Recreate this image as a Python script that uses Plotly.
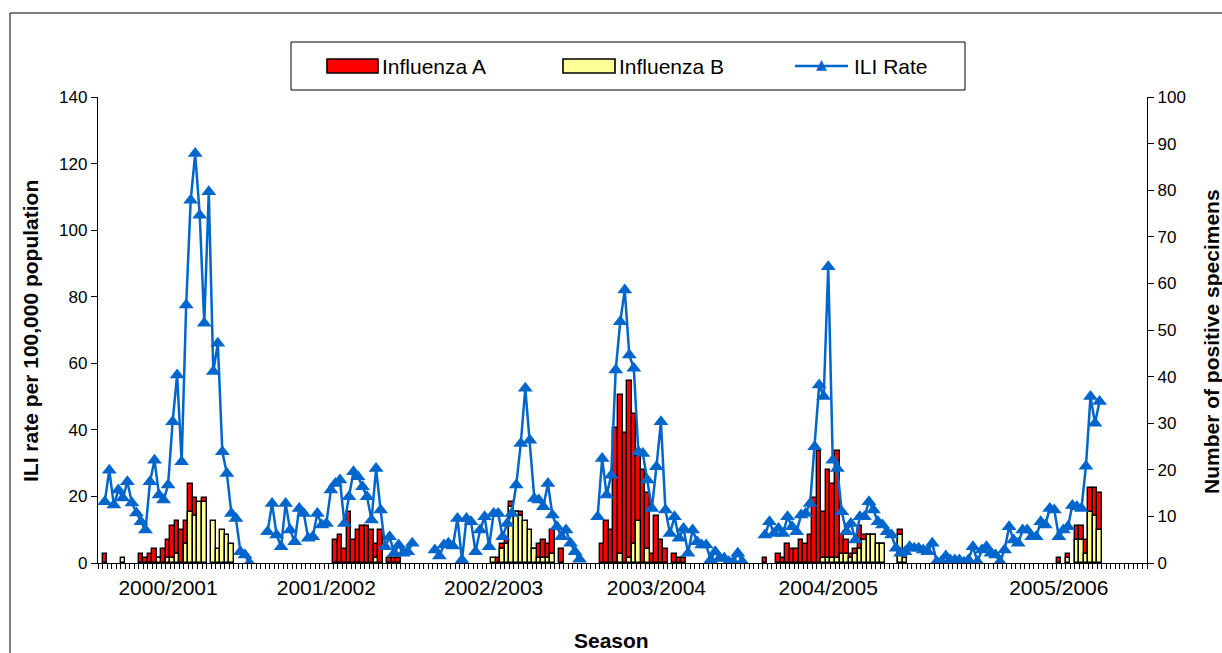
import plotly.graph_objects as go

# ---------------- data ----------------
N_WEEKS = 232                                  # weekly categories on the x axis
season_labels = ["2000/2001", "2001/2002", "2002/2003", "2003/2004", "2004/2005", "2005/2006"]
season_first_week = [1, 37, 74, 110, 147, 200]  # category index of first reported week
season_label_week = [15, 50, 87, 123, 161, 212]  # category carrying the season label

ili_s1 = [18.4, 27.9, 17.4, 21.9, 19.5, 24.4, 18.0, 15.0, 12.4, 9.9, 24.4, 30.9, 20.4, 18.9, 23.4, 42.4, 56.5,
          30.4, 77.5, 109.0, 123.0, 104.5, 72.0, 111.5, 57.5, 66.0, 33.4, 26.9, 14.9, 13.4, 3.4, 2.4, 0.0]
ili_s2 = [9.4, 17.9, 8.4, 4.9, 17.9, 9.9, 6.4, 16.4, 14.9, 7.4, 7.9, 14.9, 11.4, 11.9, 21.9, 23.9, 24.9,
          11.9, 19.9, 27.4, 25.9, 22.9, 19.9, 12.9, 28.4, 15.9, 4.9, 7.9, 2.9, 5.4, 2.9, 3.4, 5.9]
ili_s3 = [3.9, 2.1, 5.4, 5.9, 5.1, 13.4, 0.9, 13.4, 12.4, 3.4, 9.9, 13.9, 4.9, 14.9, 14.9, 7.9, 11.9,
          14.9, 23.4, 35.9, 52.5, 36.9, 19.4, 18.9, 16.9, 23.9, 14.4, 10.9, 7.9, 9.9, 5.9, 3.4, 1.1]
ili_s4 = [13.9, 31.4, 20.4, 26.4, 58.0, 72.5, 82.0, 62.5, 58.5, 33.4, 32.9, 24.9, 16.4, 28.9, 42.4, 15.9, 8.9,
          13.9, 7.4, 10.4, 2.9, 9.9, 6.4, 5.4, 5.4, 0.9, 3.4, 1.4, 1.4, 0.4, 0.4, 2.9, 0.4]
ili_s5 = [8.4, 12.4, 8.9, 10.4, 8.9, 13.9, 10.9, 9.4, 14.4, 14.9, 17.9, 34.9, 53.5, 50.0, 89.0, 30.9, 28.4,
          15.4, 9.4, 11.9, 6.9, 13.9, 13.9, 18.4, 15.9, 12.4, 11.4, 9.4, 8.4, 4.4, 2.9, 3.4, 4.9, 4.4, 4.4,
          3.9, 3.4, 5.9, 0.4, 0.4, 2.1, 0.9, 0.9, 0.9, 0.2, 0.9, 4.9, 0.4, 3.9, 4.9, 2.9, 2.4, 0.4]
ili_s6 = [3.9, 10.9, 6.9, 5.9, 9.9, 9.9, 7.9, 7.9, 12.4, 11.4, 16.4, 15.9, 7.9, 9.9, 10.9, 17.3, 16.9,
          16.4, 29.1, 50.0, 42.0, 48.5]

flu_a_s1 = [2, 0, 0, 0, 0, 0, 0, 0, 2, 1, 2, 3, 1, 3, 5, 8, 9, 7, 9, 17, 14, 12, 14, 0, 0, 0, 0, 0, 0, 0, 0, 0, 0]
flu_b_s1 = [0, 0, 0, 0, 1, 0, 0, 0, 0, 0, 0, 0, 1, 0, 1, 1, 2, 0, 4, 11, 10, 13, 13, 0, 9, 3, 7, 6, 4, 0, 0, 0, 0]
flu_a_s2 = [0, 0, 0, 0, 0, 0, 0, 0, 0, 0, 0, 0, 0, 0, 0, 5, 6, 3, 11, 5, 7, 8, 8, 7, 4, 7, 0, 1, 1, 1, 0, 0, 0]
flu_b_s2 = [0, 0, 0, 0, 0, 0, 0, 0, 0, 0, 0, 0, 0, 0, 0, 0, 0, 0, 0, 0, 0, 0, 0, 0, 1, 0, 0, 0, 0, 0, 0, 0, 0]
flu_a_s3 = [0, 0, 0, 0, 0, 0, 0, 0, 0, 0, 0, 0, 0, 0, 1, 4, 5, 13, 11, 11, 0, 0, 3, 4, 5, 4, 7, 0, 3, 0, 0, 0, 0]
flu_b_s3 = [0, 0, 0, 0, 0, 0, 0, 0, 0, 0, 0, 0, 0, 1, 0, 3, 4, 12, 11, 10, 9, 7, 3, 1, 1, 1, 2, 0, 0, 0, 0, 0, 0]
flu_a_s4 = [0, 4, 9, 7, 29, 36, 28, 39, 32, 23, 20, 15, 2, 10, 5, 3, 0, 2, 1, 1, 0, 0, 0, 0, 0, 0, 0, 0, 0, 0, 0, 0, 0]
flu_b_s4 = [0, 0, 0, 0, 0, 2, 0, 1, 4, 9, 0, 3, 0, 0, 0, 0, 0, 0, 0, 0, 0, 0, 0, 0, 0, 0, 0, 0, 0, 0, 0, 0, 0]
flu_a_s5 = [1, 0, 0, 2, 1, 4, 3, 3, 5, 4, 6, 14, 24, 11, 20, 17, 24, 6, 5, 2, 3, 8, 6, 6, 6, 4, 4, 0, 0, 0,
            7, 0, 0, 0, 0, 0, 0, 0, 0, 0, 0, 0, 0, 0, 0, 0, 0, 0, 0, 0, 0, 0, 0]
flu_b_s5 = [0, 0, 0, 0, 0, 0, 0, 0, 0, 0, 0, 0, 0, 1, 1, 1, 1, 2, 2, 1, 2, 3, 5, 6, 6, 4, 4, 0, 0, 0,
            6, 1, 0, 0, 0, 0, 0, 0, 0, 0, 0, 0, 0, 0, 0, 0, 0, 0, 0, 0, 0, 0, 0]
flu_a_s6 = [0, 0, 0, 0, 0, 0, 0, 0, 0, 0, 0, 0, 1, 0, 2, 0, 8, 8, 5, 16, 16, 15]
flu_b_s6 = [0, 0, 0, 0, 0, 0, 0, 0, 0, 0, 0, 0, 0, 0, 1, 0, 5, 5, 2, 11, 10, 7]

ili_seasons = [ili_s1, ili_s2, ili_s3, ili_s4, ili_s5, ili_s6]
flu_a_seasons = [flu_a_s1, flu_a_s2, flu_a_s3, flu_a_s4, flu_a_s5, flu_a_s6]
flu_b_seasons = [flu_b_s1, flu_b_s2, flu_b_s3, flu_b_s4, flu_b_s5, flu_b_s6]

# assemble full weekly series (None = week not reported / no positive specimens)
weeks = list(range(N_WEEKS))
ili = [None] * N_WEEKS
flu_a = [None] * N_WEEKS
flu_b = [None] * N_WEEKS
for start, s_ili, s_a, s_b in zip(season_first_week, ili_seasons, flu_a_seasons, flu_b_seasons):
    for k, v in enumerate(s_ili):
        ili[start + k] = v
    for k, v in enumerate(s_a):
        flu_a[start + k] = v if v else None
    for k, v in enumerate(s_b):
        flu_b[start + k] = v if v else None

# ---------------- styling / layout ----------------
FONT = "Liberation Sans, Arial, sans-serif"
RED, YELLOW, BLUE = "#FF0000", "#FFFF99", "#0066CC"
W, H = 1222, 653
L, R, T, B = 98, 75, 97, 90
PW, PH = W - L - R, H - T - B
BIG = 21


def fx(px):
    return (px - L) / PW


def fy(py):
    return 1 - (py - T) / PH


fig = go.Figure()
fig.add_trace(go.Bar(x=weeks, y=flu_a, name="Influenza A", width=1.0,
                     marker=dict(color=RED, line=dict(color="black", width=1.4)),
                     yaxis="y", showlegend=False))
fig.add_trace(go.Bar(x=weeks, y=flu_b, name="Influenza B", width=1.0,
                     marker=dict(color=YELLOW, line=dict(color="black", width=1.4)),
                     yaxis="y", showlegend=False))
fig.add_trace(go.Scatter(x=weeks, y=ili, name="ILI Rate", mode="lines+markers",
                         line=dict(color=BLUE, width=2.5),
                         marker=dict(symbol="triangle-up", size=13, color=BLUE),
                         connectgaps=False, yaxis="y2", showlegend=False))

shapes = [
    # chart area border
    dict(type="rect", xref="paper", yref="paper", x0=fx(10), x1=fx(1240), y0=fy(670), y1=fy(13),
         line=dict(color="black", width=1), fillcolor="rgba(0,0,0,0)", layer="below"),
    # legend box
    dict(type="rect", xref="paper", yref="paper", x0=fx(291), x1=fx(965), y0=fy(90), y1=fy(42),
         line=dict(color="black", width=1), fillcolor="white"),
    dict(type="rect", xref="paper", yref="paper", x0=fx(327), x1=fx(378), y0=fy(73), y1=fy(59),
         line=dict(color="black", width=1.6), fillcolor=RED),
    dict(type="rect", xref="paper", yref="paper", x0=fx(563), x1=fx(615), y0=fy(73), y1=fy(59),
         line=dict(color="black", width=1.6), fillcolor=YELLOW),
    dict(type="line", xref="paper", yref="paper", x0=fx(795), x1=fx(848), y0=fy(66), y1=fy(66),
         line=dict(color=BLUE, width=2.5)),
]

annotations = [
    dict(text="Influenza A", x=fx(380), y=fy(66), xanchor="left", yanchor="middle"),
    dict(text="Influenza B", x=fx(617), y=fy(66), xanchor="left", yanchor="middle"),
    dict(text="ILI Rate", x=fx(852), y=fy(66), xanchor="left", yanchor="middle"),
    dict(text="▲", x=fx(821), y=fy(64), xanchor="center", yanchor="middle",
         font=dict(family="DejaVu Sans", size=14, color=BLUE)),
    dict(text="<b>ILI rate per 100,000 population</b>", x=fx(30), y=fy(331), textangle=-90,
         xanchor="center", yanchor="middle"),
    dict(text="<b>Number of positive specimens</b>", x=fx(1211), y=fy(342), textangle=-90,
         xanchor="center", yanchor="middle"),
    dict(text="<b>Season</b>", x=fx(611), y=fy(640), xanchor="center", yanchor="middle"),
]
for a in annotations:
    a.setdefault("xref", "paper")
    a.setdefault("yref", "paper")
    a.setdefault("showarrow", False)
    a.setdefault("font", dict(family=FONT, size=BIG, color="black"))

fig.update_layout(
    width=W, height=H,
    margin=dict(l=L, r=R, t=T, b=B),
    paper_bgcolor="white", plot_bgcolor="white",
    barmode="overlay", bargap=0,
    showlegend=False,
    font=dict(family=FONT, size=17, color="black"),
    xaxis=dict(range=[-0.5, N_WEEKS - 0.5], tickmode="array",
               tickvals=season_label_week, ticktext=season_labels,
               ticks="outside", ticklen=6, tickcolor="rgba(0,0,0,0)",
               showline=True, linecolor="black", linewidth=1.3, showgrid=False, zeroline=False,
               minor=dict(tickmode="linear", tick0=0.5, dtick=1, ticks="outside", ticklen=5,
                          tickcolor="black", tickwidth=1, showgrid=False),
               tickfont=dict(family=FONT, size=BIG)),
    yaxis=dict(range=[0, 100], dtick=10, side="right", showline=True, linecolor="black", linewidth=1.3,
               ticks="outside", ticklen=6, tickcolor="black", showgrid=False, zeroline=False,
               tickfont=dict(family=FONT, size=17)),
    yaxis2=dict(range=[0, 140], dtick=20, side="left", overlaying="y", showline=True, linecolor="black",
                linewidth=1.3, ticks="outside", ticklen=6, tickcolor="black", showgrid=False, zeroline=False,
                tickfont=dict(family=FONT, size=17)),
    shapes=shapes,
    annotations=annotations,
)

fig.write_html("out.html", config={"displayModeBar": False})

# remove the default page margin so the figure sits at the window's top-left corner
with open("out.html", encoding="utf-8") as f:
    html = f.read()
html = html.replace("<body>", '<body style="margin:0;padding:0;overflow:hidden">', 1)
with open("out.html", "w", encoding="utf-8") as f:
    f.write(html)
